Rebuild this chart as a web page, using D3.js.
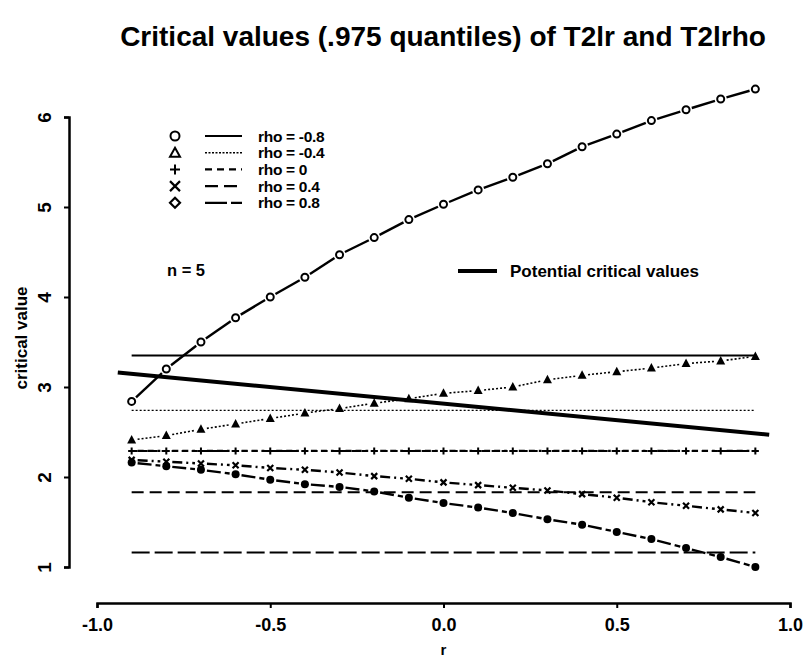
<!DOCTYPE html>
<html>
<head>
<meta charset="utf-8">
<script src="https://cdn.jsdelivr.net/npm/d3@7"></script>
<style>
  body { margin: 0; background: #fff; }
  text { font-family: "Liberation Sans", Arial, sans-serif; fill: #000; }
</style>
</head>
<body>
<div id="chart"></div>
<script>

// r grid used for the T2lr curves
var rVals = [-0.9, -0.8, -0.7, -0.6, -0.5, -0.4, -0.3, -0.2, -0.1, 0,
             0.1, 0.2, 0.3, 0.4, 0.5, 0.6, 0.7, 0.8, 0.9];

// T2lr critical values, one series per rho
var cvRhoM08 = [2.84, 3.20, 3.50, 3.77, 4.00, 4.22, 4.47, 4.66, 4.86, 5.03,
                5.19, 5.33, 5.48, 5.67, 5.81, 5.96, 6.08, 6.20, 6.31];
var cvRhoM04 = [2.41, 2.46, 2.53, 2.59, 2.65, 2.71, 2.76, 2.82, 2.87, 2.93,
                2.96, 3.00, 3.08, 3.13, 3.17, 3.21, 3.26, 3.29, 3.34];
var cvRho0   = [2.29, 2.29, 2.29, 2.29, 2.29, 2.29, 2.29, 2.29, 2.29, 2.29,
                2.29, 2.29, 2.29, 2.29, 2.29, 2.29, 2.29, 2.29, 2.29];
var cvRho04  = [2.19, 2.17, 2.15, 2.13, 2.10, 2.08, 2.05, 2.01, 1.98, 1.94,
                1.91, 1.88, 1.85, 1.81, 1.77, 1.72, 1.68, 1.64, 1.60];
var cvRho08  = [2.16, 2.12, 2.08, 2.03, 1.97, 1.92, 1.89, 1.84, 1.77, 1.71,
                1.66, 1.60, 1.53, 1.47, 1.39, 1.31, 1.21, 1.11, 1.00];

// T2lrho critical values (flat in r)
var rhoLabels = ["rho = -0.8", "rho = -0.4", "rho = 0", "rho = 0.4", "rho = 0.8"];
var flatCV = [3.35, 2.74, 2.29, 1.83, 1.16];

// potential critical values line
var potentialR = [-0.94, 0.94];
var potentialCV = [3.16, 2.47];

var xTicks = [-1.0, -0.5, 0.0, 0.5, 1.0];
var yTicks = [1, 2, 3, 4, 5, 6];

var width = 807, height = 661;

var svg = d3.select("#chart")
  .append("svg")
    .attr("width", width)
    .attr("height", height);

var x = d3.scaleLinear().domain([-1, 1]).range([97, 790]);
var y = d3.scaleLinear().domain([1, 6]).range([567, 117]);

// title
svg.append("text")
  .attr("x", 443)
  .attr("y", 46)
  .attr("text-anchor", "middle")
  .style("font-size", "28px")
  .style("font-weight", "bold")
  .text("Critical values (.975 quantiles) of T2lr and T2lrho");

// x axis
var xAxis = svg.append("g")
  .attr("transform", "translate(0,603)")
  .call(d3.axisBottom(x).tickValues(xTicks).tickSizeOuter(0).tickSize(5)
    .tickFormat(function (d) { return d.toFixed(1); }));
xAxis.select(".domain").attr("stroke-width", 2.5);
xAxis.selectAll(".tick line").attr("stroke-width", 2);
xAxis.selectAll("text")
  .attr("y", 15)
  .style("font-size", "18px")
  .style("font-weight", "bold")
  .style("font-family", "Liberation Sans, Arial, sans-serif");

svg.append("text")
  .attr("x", x(0))
  .attr("y", 655)
  .attr("text-anchor", "middle")
  .style("font-size", "15px")
  .style("font-weight", "bold")
  .text("r");

// y axis
var yAxis = svg.append("g")
  .attr("transform", "translate(69,0)")
  .call(d3.axisLeft(y).tickValues(yTicks).tickSizeOuter(0).tickSize(5)
    .tickFormat(function (d) { return String(d); }));
yAxis.select(".domain").attr("stroke-width", 2.5);
yAxis.selectAll(".tick line").attr("stroke-width", 2);
yAxis.selectAll("text")
  .attr("x", null).attr("dy", null)
  .attr("transform", "translate(-18,0) rotate(-90)")
  .attr("text-anchor", "middle")
  .attr("y", 0)
  .style("font-size", "19px")
  .style("font-weight", "bold")
  .style("font-family", "Liberation Sans, Arial, sans-serif");

svg.append("text")
  .attr("transform", "translate(27,338) rotate(-90)")
  .attr("text-anchor", "middle")
  .style("font-size", "17px")
  .style("font-weight", "bold")
  .text("critical value");

// styles per rho
var dashes = ["none", "2,2", "6,4", "12,6", "18,5"];
var curveDash = ["none", "2,2", "6,4", "10,4,2,4", "14,4"];
var flatWidth = [2, 1.4, 2, 2, 2];
var series = [cvRhoM08, cvRhoM04, cvRho0, cvRho04, cvRho08];

// flat T2lrho lines
svg.append("g").selectAll("line")
  .data(flatCV)
  .enter()
  .append("line")
    .attr("x1", x(-0.9))
    .attr("x2", x(0.9))
    .attr("y1", function (d) { return y(d); })
    .attr("y2", function (d) { return y(d); })
    .attr("stroke", "#000")
    .attr("stroke-width", function (d, i) { return flatWidth[i]; })
    .attr("stroke-dasharray", function (d, i) { return dashes[i]; });

// potential critical values
svg.append("line")
  .attr("x1", x(potentialR[0])).attr("y1", y(potentialCV[0]))
  .attr("x2", x(potentialR[1])).attr("y2", y(potentialCV[1]))
  .attr("stroke", "#000")
  .attr("stroke-width", 4);

// symbol drawer
function drawSymbol(g, k, cx, cy) {
  if (k == 0) {
    g.append("circle").attr("cx", cx).attr("cy", cy).attr("r", 3.5)
      .attr("fill", "#fff").attr("stroke", "#000").attr("stroke-width", 2);
  } else if (k == 1) {
    g.append("path")
      .attr("d", "M" + cx + "," + (cy - 5) + "L" + (cx + 4.5) + "," + (cy + 3.5) + "L" + (cx - 4.5) + "," + (cy + 3.5) + "Z")
      .attr("fill", "#000");
  } else if (k == 2) {
    g.append("path")
      .attr("d", "M" + (cx - 3.5) + "," + cy + "H" + (cx + 3.5) + "M" + cx + "," + (cy - 3.5) + "V" + (cy + 3.5))
      .attr("stroke", "#000").attr("stroke-width", 2);
  } else if (k == 3) {
    g.append("path")
      .attr("d", "M" + (cx - 3) + "," + (cy - 3) + "L" + (cx + 3) + "," + (cy + 3) + "M" + (cx + 3) + "," + (cy - 3) + "L" + (cx - 3) + "," + (cy + 3))
      .attr("stroke", "#000").attr("stroke-width", 2.2);
  } else {
    g.append("circle").attr("cx", cx).attr("cy", cy).attr("r", 4)
      .attr("fill", "#000");
  }
}

// T2lr curves, drawn like type="b" (gaps round the points)
series.forEach(function (vals, k) {
  var g = svg.append("g");
  var gap = 6;
  for (var i = 0; i < vals.length - 1; i++) {
    var x1 = x(rVals[i]), y1 = y(vals[i]);
    var x2 = x(rVals[i + 1]), y2 = y(vals[i + 1]);
    var len = Math.sqrt((x2 - x1) * (x2 - x1) + (y2 - y1) * (y2 - y1));
    var ux = (x2 - x1) / len, uy = (y2 - y1) / len;
    g.append("line")
      .attr("x1", x1 + ux * gap).attr("y1", y1 + uy * gap)
      .attr("x2", x2 - ux * gap).attr("y2", y2 - uy * gap)
      .attr("stroke", "#000")
      .attr("stroke-width", k == 1 ? 1.6 : 2.4)
      .attr("stroke-dasharray", curveDash[k]);
  }
  for (var j = 0; j < vals.length; j++) {
    drawSymbol(g, k, x(rVals[j]), y(vals[j]));
  }
});

// legend
var legendDash = ["none", "2,1.5", "7,5", "13,6", "22,4"];
var legend = svg.append("g");
rhoLabels.forEach(function (lab, i) {
  var ly = 136 + i * 16.7;
  var s = legend.append("g");
  if (i == 0) {
    s.append("circle").attr("cx", 175).attr("cy", ly).attr("r", 4.5)
      .attr("fill", "none").attr("stroke", "#000").attr("stroke-width", 2);
  } else if (i == 1) {
    s.append("path").attr("d", "M175," + (ly - 5) + "L180," + (ly + 4) + "L170," + (ly + 4) + "Z")
      .attr("fill", "none").attr("stroke", "#000").attr("stroke-width", 2);
  } else if (i == 2) {
    s.append("path").attr("d", "M170," + ly + "H180M175," + (ly - 5) + "V" + (ly + 5))
      .attr("stroke", "#000").attr("stroke-width", 2);
  } else if (i == 3) {
    s.append("path").attr("d", "M170," + (ly - 5) + "L180," + (ly + 5) + "M180," + (ly - 5) + "L170," + (ly + 5))
      .attr("stroke", "#000").attr("stroke-width", 2.2);
  } else {
    s.append("path").attr("d", "M175," + (ly - 5) + "L180," + ly + "L175," + (ly + 5) + "L170," + ly + "Z")
      .attr("fill", "none").attr("stroke", "#000").attr("stroke-width", 2.2);
  }
  legend.append("line")
    .attr("x1", 205).attr("x2", 242)
    .attr("y1", ly).attr("y2", ly)
    .attr("stroke", "#000")
    .attr("stroke-width", i == 1 ? 1.4 : 2.2)
    .attr("stroke-dasharray", legendDash[i]);
  legend.append("text")
    .attr("x", 258)
    .attr("y", ly + 5.5)
    .style("font-size", "15.5px")
    .style("font-weight", "bold")
    .style("letter-spacing", "-0.3px")
    .text(lab);
});

svg.append("text")
  .attr("x", 186)
  .attr("y", 276)
  .attr("text-anchor", "middle")
  .style("font-size", "16.5px")
  .style("font-weight", "bold")
  .text("n = 5");

svg.append("line")
  .attr("x1", 458).attr("x2", 497)
  .attr("y1", 271).attr("y2", 271)
  .attr("stroke", "#000")
  .attr("stroke-width", 4);

svg.append("text")
  .attr("x", 510)
  .attr("y", 277)
  .style("font-size", "17px")
  .style("font-weight", "bold")
  .text("Potential critical values");

</script>
</body>
</html>
